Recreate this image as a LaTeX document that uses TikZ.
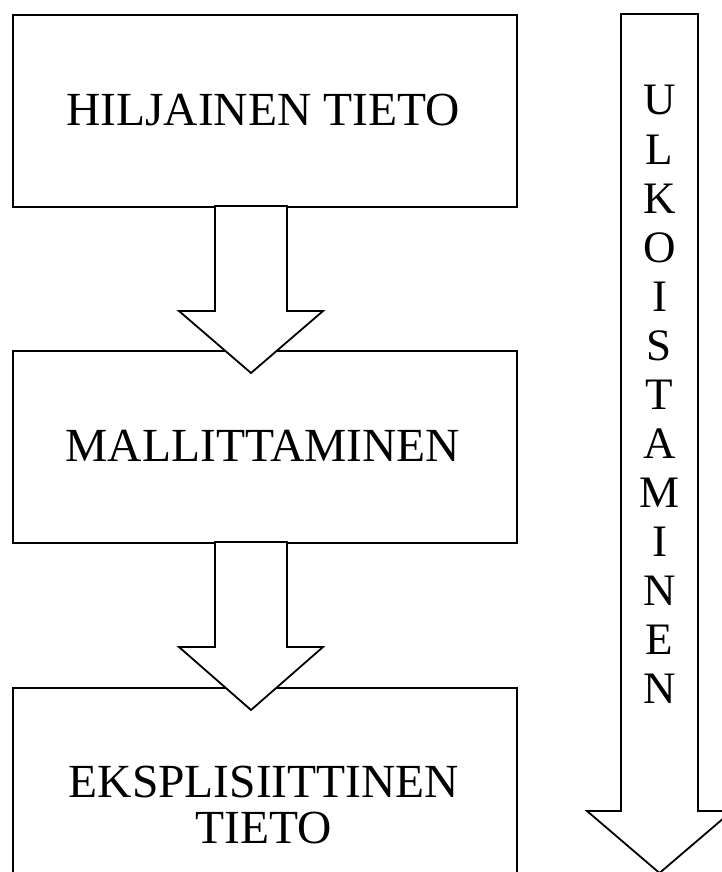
\documentclass[tikz,border=0pt]{standalone}
\usepackage{fontspec}
\setmainfont{Liberation Serif}
\begin{document}
\begin{tikzpicture}[x=1pt,y=-1pt,
  box/.style={draw=black, line width=2pt, fill=white, anchor=north west, inner sep=0pt},
  blockarrow/.style={draw=black, line width=1.8pt, fill=white, line join=miter},
  lbl/.style={font=\fontsize{47.5}{47.5}\selectfont, anchor=base, inner sep=0pt},
  vlbl/.style={font=\fontsize{45}{45}\selectfont, anchor=base, inner sep=0pt}]
\useasboundingbox (0,0) rectangle (722,872);
\clip (0,0) rectangle (722,872);
\fill[white] (0,0) rectangle (722,872);
% boxes
\node[box, minimum width=504pt, minimum height=192pt] (b1) at (12,14) {};
\node[box, minimum width=504pt, minimum height=192pt] (b2) at (12,350) {};
\node[box, minimum width=504pt, minimum height=260pt] (b3) at (12,687) {};
% labels
\node[lbl] (t1) at (263,125) {HILJAINEN TIETO};
\node[lbl] (t2) at (263,461) {MALLITTAMINEN};
\node[lbl] (t3a) at (264,797) {EKSPLISIITTINEN};
\node[lbl] (t3b) at (264,843) {TIETO};
% block arrows between boxes
\draw[blockarrow] (215,206) -- (287,206) -- (287,311) -- (323,311) -- (251,373) -- (179,311) -- (215,311) -- cycle;
\draw[blockarrow] (215,542) -- (287,542) -- (287,647) -- (323,647) -- (251,710) -- (179,647) -- (215,647) -- cycle;
% right vertical arrow
\draw[blockarrow] (621,14) -- (698,14) -- (698,811) -- (732,811) -- (659.5,873) -- (587,811) -- (621,811) -- cycle;
\foreach \ch [count=\i from 0] in {U,L,K,O,I,S,T,A,M,I,N,E,N}
  \node[vlbl] (v\i) at (659.5,{115+49*\i}) {\ch};
\end{tikzpicture}
\end{document}
